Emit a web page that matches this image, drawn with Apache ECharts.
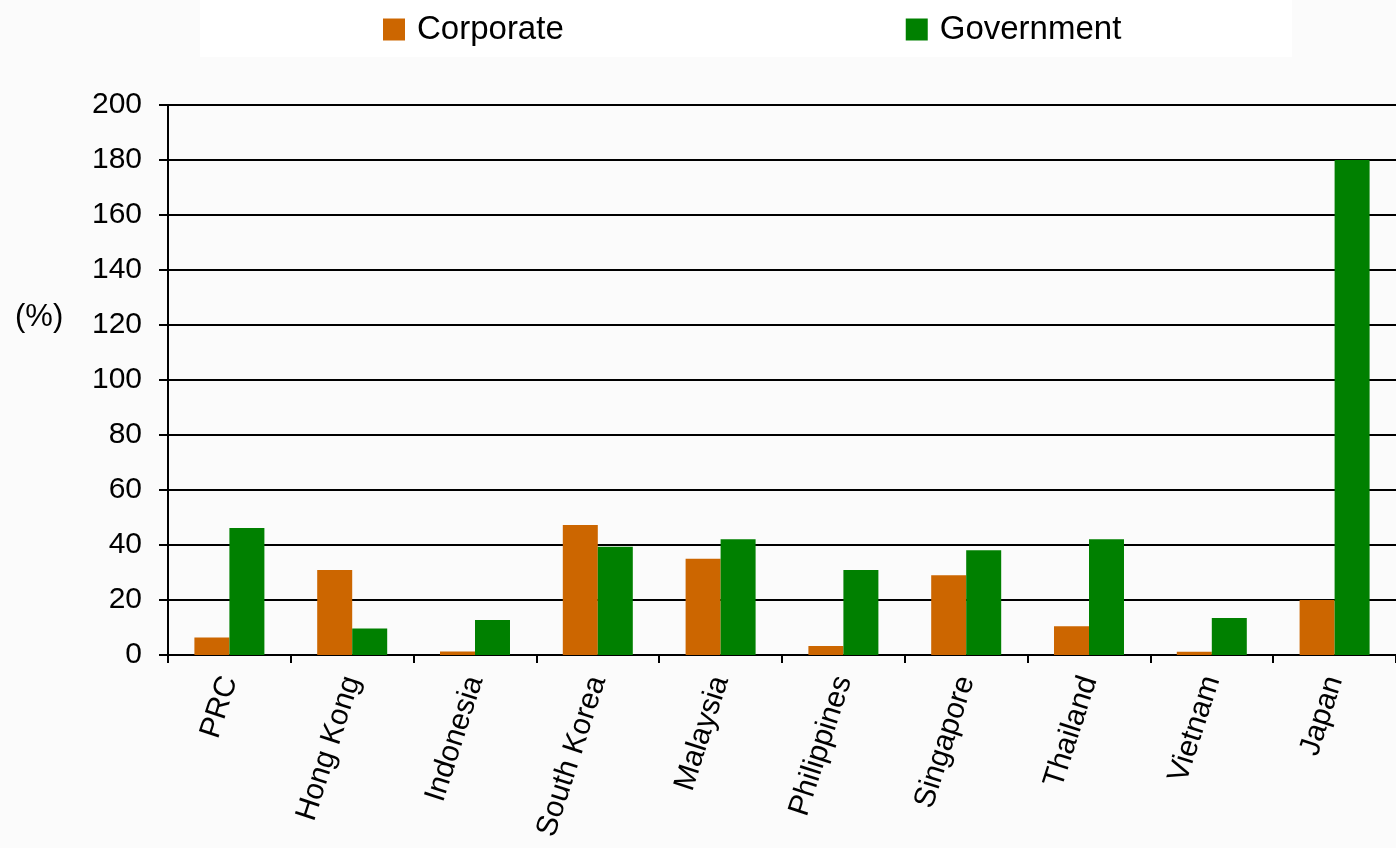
<!DOCTYPE html>
<html>
<head>
<meta charset="utf-8">
<script src="https://cdn.jsdelivr.net/npm/echarts@6/dist/echarts.min.js"></script>
<style>
  html, body { margin: 0; padding: 0; background: #fbfbfb; }
  #main { width: 1396px; height: 848px; }
</style>
</head>
<body>
<div id="main"></div>
<script>
const countries = ['PRC', 'Hong Kong', 'Indonesia', 'South Korea', 'Malaysia',
    'Philippines', 'Singapore', 'Thailand', 'Vietnam', 'Japan'];
const corporate = [6.4, 30.9, 1.3, 47.3, 35.0, 3.3, 29.0, 10.5, 1.2, 20];
const government = [46.2, 9.6, 12.7, 39.4, 42.1, 30.9, 38.1, 42.1, 13.5, 180];
const yTicks = [0, 20, 40, 60, 80, 100, 120, 140, 160, 180, 200];

const font = '"Liberation Sans", Arial, sans-serif';

const myChart = echarts.init(document.getElementById('main'), null, { renderer: 'canvas' });

const eConfig = {
    backgroundColor: '#fbfbfb',
    animation: false,
    graphic: [
        {
            type: 'rect',
            left: 200, top: 0,
            shape: { width: 1092, height: 57 },
            style: { fill: '#ffffff' },
            z: -1
        },
        {
            type: 'text',
            left: 15, top: 302,
            style: { text: '(%)', font: '31px ' + font, fill: '#000' }
        }
    ],
    legend: {
        left: 378,
        top: 8,
        itemWidth: 22,
        itemHeight: 22,
        itemGap: 342,
        icon: 'rect',
        textStyle: { fontFamily: font, fontSize: 33, color: '#000', padding: [0, 0, 0, 7] },
        data: ['Corporate', 'Government']
    },
    grid: { left: 168, right: -2, top: 105, bottom: 193 },
    xAxis: {
        type: 'category',
        data: countries,
        axisLine: { lineStyle: { color: '#000', width: 2 } },
        axisTick: { show: true, length: 8, lineStyle: { color: '#000', width: 2 } },
        axisLabel: {
            rotate: 72,
            margin: 22,
            fontFamily: font,
            fontSize: 30,
            color: '#000'
        }
    },
    yAxis: {
        type: 'value',
        min: yTicks[0],
        max: yTicks[yTicks.length - 1],
        interval: 20,
        axisLine: { show: true, lineStyle: { color: '#000', width: 2 } },
        axisTick: { show: true, length: 9, lineStyle: { color: '#000', width: 2 } },
        splitLine: { lineStyle: { color: '#000', width: 2 } },
        axisLabel: {
            margin: 26,
            fontFamily: font,
            fontSize: 30,
            color: '#000'
        }
    },
    series: [
        {
            name: 'Corporate',
            type: 'bar',
            data: corporate,
            itemStyle: { color: '#CC6600' },
            barGap: '0%',
            barCategoryGap: '43%'
        },
        {
            name: 'Government',
            type: 'bar',
            data: government,
            itemStyle: { color: '#008000' },
            barGap: '0%',
            barCategoryGap: '43%'
        }
    ]
};

myChart.setOption(eConfig);
</script>
</body>
</html>
